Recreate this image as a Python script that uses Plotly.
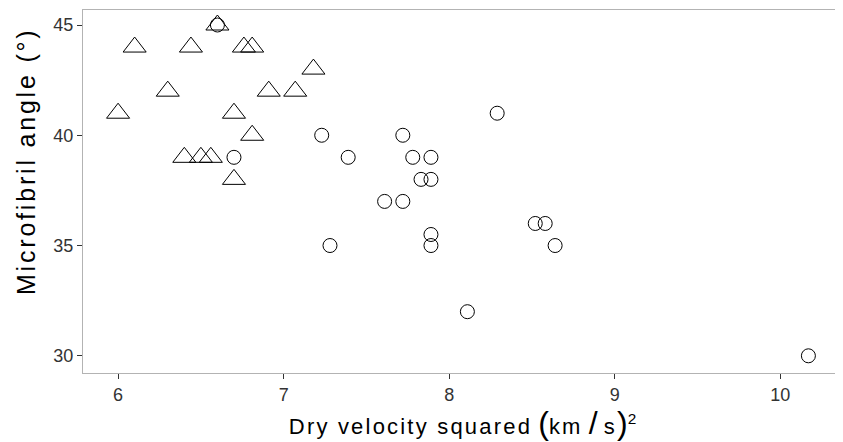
import plotly.graph_objects as go

# Triangle group (x: dry velocity squared, y: microfibril angle)
tri_x = [6.10, 6.44, 6.76, 6.81, 6.60, 7.18, 6.30, 6.91, 7.07, 6.00, 6.70, 6.81, 6.40, 6.50, 6.56, 6.70]
tri_y = [44, 44, 44, 44, 45, 43, 42, 42, 42, 41, 41, 40, 39, 39, 39, 38]

# Circle group
cir_x = [6.60, 7.23, 6.70, 7.39, 8.29, 7.72, 7.78, 7.89, 7.83, 7.89, 7.61, 7.72,
         8.52, 8.58, 7.89, 7.89, 7.28, 8.64, 8.11, 10.17]
cir_y = [45, 40, 39, 39, 41, 40, 39, 39, 38, 38, 37, 37,
         36, 36, 35.5, 35, 35, 35, 32, 30]

x_ticks = [6, 7, 8, 9, 10]
y_ticks = [30, 35, 40, 45]

FONT = "Liberation Sans, Arial, Helvetica, sans-serif"

fig = go.Figure()
fig.add_trace(go.Scatter(
    x=tri_x, y=tri_y, mode="markers",
    marker=dict(symbol="triangle-up-open", size=20, color="black",
                line=dict(width=1, color="black")),
    showlegend=False, hoverinfo="skip"))
fig.add_trace(go.Scatter(
    x=cir_x, y=cir_y, mode="markers",
    marker=dict(symbol="circle-open", size=14, color="black",
                line=dict(width=1, color="black")),
    showlegend=False, hoverinfo="skip"))

sp = "<span style='letter-spacing:2.2px'>"
big = "<span style='font-size:32px'>"
xtitle = (sp + "Dry velocity squared</span> " + big + "(</span>"
          + sp + "km</span> " + big + "/</span> " + sp + "s</span>" + big + ")</span><sup>2</sup>")
ytitle = "<span style='letter-spacing:2.8px'>Microfibril angle (°)</span>"

axis_common = dict(
    showgrid=False, zeroline=False,
    showline=True, mirror=True, linecolor="#B3B3B3", linewidth=1,
    ticks="outside", ticklen=5, tickwidth=1, tickcolor="#333333",
    tickfont=dict(family=FONT, size=18, color="#333333"),
)

fig.update_layout(
    width=835, height=434,
    margin=dict(l=75, r=1, t=2, b=69),
    paper_bgcolor="white", plot_bgcolor="white",
    font=dict(family=FONT, color="black"),
    xaxis=dict(range=[5.788, 10.373], tickvals=x_ticks,
               ticktext=[str(v) for v in x_ticks],
               title=dict(text=xtitle, font=dict(family=FONT, size=22, color="black"),
                          standoff=3),
               **axis_common),
    yaxis=dict(range=[29.22, 45.68], tickvals=y_ticks,
               ticktext=[str(v) for v in y_ticks],
               **axis_common),
    annotations=[dict(
        text=ytitle, textangle=-90, showarrow=False,
        xref="paper", yref="paper", x=-0.0751, y=0.584,
        xanchor="center", yanchor="middle",
        font=dict(family=FONT, size=25, color="black"),
    )],
)

fig.write_html("out.html")
